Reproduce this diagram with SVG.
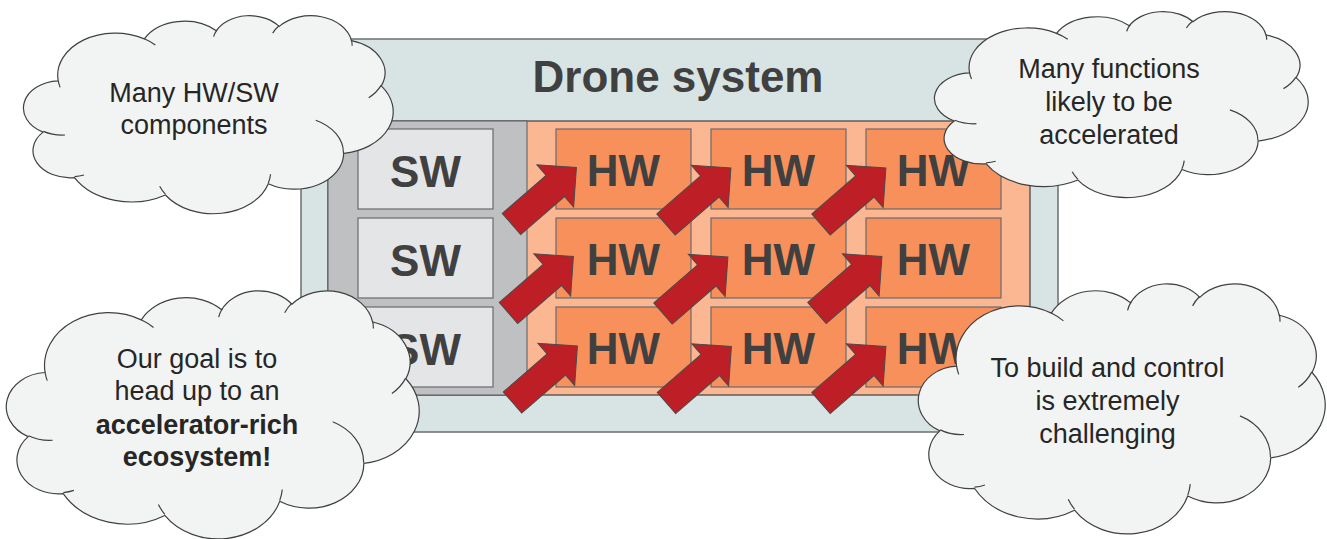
<svg xmlns="http://www.w3.org/2000/svg" width="1327" height="539" viewBox="0 0 1327 539">
<style>
.frame{fill:#D8E4E4;stroke:#6E6E72;stroke-width:1.5}
.inner{fill:#FAB792;stroke:#3F3F44;stroke-width:1.2}
.swpanel{fill:#BFC0C2;stroke:#5A5A5E;stroke-width:1}
.sw{fill:#E4E5E7;stroke:#6A6A6E;stroke-width:1.2}
.hw{fill:#F7905B;stroke:#6A6A6E;stroke-width:1.2}
.big{font-family:"Liberation Sans",Arial,sans-serif;font-weight:bold;fill:#404040;text-anchor:middle}
.cl{fill:#F2F4F3;stroke:#404040;stroke-width:1.2}
.cli{fill:none;stroke:#404040;stroke-width:1.2}
.ct{font-family:"Liberation Sans",Arial,sans-serif;font-size:27px;fill:#262626;text-anchor:middle}
.arrow{fill:#BE1E25;stroke:#4A4A4A;stroke-width:1}
</style>
<defs>
<path id="cloudShape" vector-effect="non-scaling-stroke" d="M9.028,33.264 A15.632,21.273 0 0 1 32.421,12.044 A12.345,16.822 0 0 1 51.989,7.951 A10.104,13.762 0 0 1 69.068,5.752 A11.243,15.266 0 0 1 88.710,12.916 A12.345,16.836 0 0 1 96.813,35.795 A15.683,21.343 0 0 1 86.593,69.918 A13.391,18.211 0 0 1 66.110,85.218 A15.630,21.331 0 0 1 38.157,90.895 A17.870,24.405 0 0 1 13.441,82.113 A10.093,13.699 0 0 1 4.899,59.142 A10.058,13.762 0 0 1 9.028,33.264 Z"/>
<path id="cloudInner" vector-effect="non-scaling-stroke" d="M10.863,60.595 A10.058,13.762 0 0 1 5.001,58.751 M16.037,80.785 A10.093,13.699 0 0 1 13.469,81.669 M38.144,90.486 A15.630,21.331 0 0 1 36.598,86.457 M66.729,80.442 A15.630,21.331 0 0 1 66.113,84.860 M79.002,53.134 A13.391,18.211 0 0 1 86.529,69.652 M96.755,35.542 A12.345,16.836 0 0 1 93.404,41.735 M88.713,12.560 A11.243,15.266 0 0 1 88.890,15.485 M67.310,9.148 A11.243,15.266 0 0 1 69.026,5.419 M51.252,10.926 A10.104,13.762 0 0 1 52.174,7.468 M32.407,12.019 A15.632,21.273 0 0 1 35.416,15.139 M9.553,36.549 A15.632,21.273 0 0 1 9.028,33.263"/>
<path id="blockArrow" d="M0,-14 L58,-14 L58,-28 L86,0 L58,28 L58,14 L0,14 Z"/>
</defs>

<g id="drone-system">
<rect class="frame" x="301" y="39" width="757" height="393"/>
<text class="big" x="678" y="92" font-size="44">Drone system</text>
<rect class="inner" x="328" y="121" width="702" height="274"/>
<rect class="swpanel" x="328" y="121" width="199" height="274"/>
</g>

<g id="sw1"><rect class="sw" x="358" y="129" width="135" height="80"/><text class="big" x="425.5" y="187" font-size="44">SW</text></g>
<g id="sw2"><rect class="sw" x="358" y="218" width="135" height="80"/><text class="big" x="425.5" y="276" font-size="44">SW</text></g>
<g id="sw3"><rect class="sw" x="358" y="307" width="135" height="80"/><text class="big" x="425.5" y="365" font-size="44">SW</text></g>

<g id="hw11"><rect class="hw" x="556" y="129" width="135" height="80"/><text class="big" x="623.5" y="186" font-size="44">HW</text></g>
<g id="hw12"><rect class="hw" x="711" y="129" width="135" height="80"/><text class="big" x="778.5" y="186" font-size="44">HW</text></g>
<g id="hw13"><rect class="hw" x="866" y="129" width="135" height="80"/><text class="big" x="933.5" y="186" font-size="44">HW</text></g>
<g id="hw21"><rect class="hw" x="556" y="218" width="135" height="80"/><text class="big" x="623.5" y="275" font-size="44">HW</text></g>
<g id="hw22"><rect class="hw" x="711" y="218" width="135" height="80"/><text class="big" x="778.5" y="275" font-size="44">HW</text></g>
<g id="hw23"><rect class="hw" x="866" y="218" width="135" height="80"/><text class="big" x="933.5" y="275" font-size="44">HW</text></g>
<g id="hw31"><rect class="hw" x="556" y="307" width="135" height="80"/><text class="big" x="623.5" y="364" font-size="44">HW</text></g>
<g id="hw32"><rect class="hw" x="711" y="307" width="135" height="80"/><text class="big" x="778.5" y="364" font-size="44">HW</text></g>
<g id="hw33"><rect class="hw" x="866" y="307" width="135" height="80"/><text class="big" x="933.5" y="364" font-size="44">HW</text></g>

<g id="connectors">
<use href="#blockArrow" class="arrow" transform="translate(511.5,224) rotate(-41)"/>
<use href="#blockArrow" class="arrow" transform="translate(666,224.5) rotate(-41)"/>
<use href="#blockArrow" class="arrow" transform="translate(821,224.5) rotate(-41)"/>
<use href="#blockArrow" class="arrow" transform="translate(508.5,313) rotate(-41)"/>
<use href="#blockArrow" class="arrow" transform="translate(663,313.5) rotate(-41)"/>
<use href="#blockArrow" class="arrow" transform="translate(817,313) rotate(-41)"/>
<use href="#blockArrow" class="arrow" transform="translate(512.5,402.5) rotate(-41)"/>
<use href="#blockArrow" class="arrow" transform="translate(666.5,403) rotate(-41)"/>
<use href="#blockArrow" class="arrow" transform="translate(821,403) rotate(-41)"/>
</g>

<g id="cloud-components">
<g transform="translate(25,15) scale(3.68,1.98)"><use href="#cloudShape" class="cl"/><use href="#cloudInner" class="cli"/></g>
<text class="ct" x="194" y="102">Many HW/SW</text>
<text class="ct" x="194" y="134">components</text>
</g>

<g id="cloud-functions">
<g transform="translate(936,11) scale(3.72,1.86)"><use href="#cloudShape" class="cl"/><use href="#cloudInner" class="cli"/></g>
<text class="ct" x="1109" y="78">Many functions</text>
<text class="ct" x="1109" y="111">likely to be</text>
<text class="ct" x="1109" y="144">accelerated</text>
</g>

<g id="cloud-goal">
<g transform="translate(8,290) scale(4.11,2.48)"><use href="#cloudShape" class="cl"/><use href="#cloudInner" class="cli"/></g>
<text class="ct" x="197" y="368">Our goal is to</text>
<text class="ct" x="197" y="400">head up to an</text>
<text class="ct" x="197" y="434" font-weight="bold">accelerator-rich</text>
<text class="ct" x="197" y="466" font-weight="bold">ecosystem!</text>
</g>

<g id="cloud-challenge">
<g transform="translate(920,283) scale(4.05,2.5)"><use href="#cloudShape" class="cl"/><use href="#cloudInner" class="cli"/></g>
<text class="ct" x="1107.5" y="377">To build and control</text>
<text class="ct" x="1107.5" y="410">is extremely</text>
<text class="ct" x="1107.5" y="443">challenging</text>
</g>
</svg>
